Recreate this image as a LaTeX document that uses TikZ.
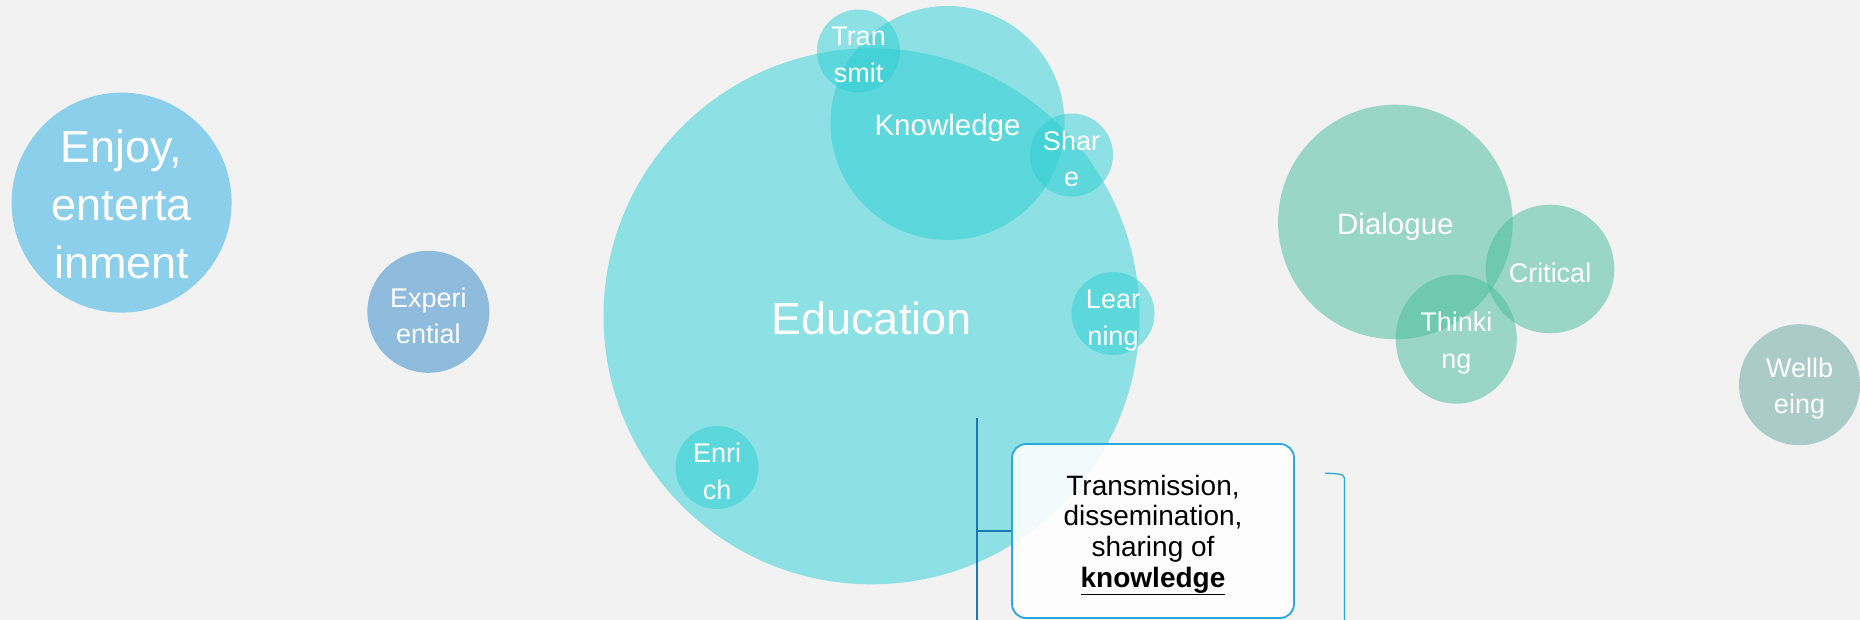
\documentclass[tikz,border=0pt]{standalone}
\usepackage{fontspec}
\setmainfont{Liberation Sans}
\usetikzlibrary{shapes.geometric}
\definecolor{bgc}{RGB}{242,242,242}
\definecolor{tealc}{RGB}{46,207,213}
\definecolor{greenc}{RGB}{69,189,152}
\definecolor{enjoyc}{RGB}{139,207,235}
\definecolor{experc}{RGB}{143,187,221}
\definecolor{wellc}{RGB}{170,203,200}
\definecolor{boxborder}{RGB}{41,168,224}
\definecolor{linec}{RGB}{30,120,175}
\tikzset{
  tcirc/.style={circle, fill=tealc, fill opacity=0.515, inner sep=0pt, minimum size=#1},
  gcirc/.style={circle, fill=greenc, fill opacity=0.51, inner sep=0pt, minimum size=#1},
  ocirc/.style={circle, fill=#1, inner sep=0pt},
  lbl/.style={text=white, align=center, inner sep=0pt, yshift=-4pt, font=\fontsize{27}{36.5}\selectfont},
  biglbl/.style={text=white, align=center, inner sep=0pt, yshift=-2pt, font=\fontsize{45}{58}\selectfont},
  midlbl/.style={text=white, align=center, inner sep=0pt, yshift=-4.5pt, font=\fontsize{29.5}{36}\selectfont},
  infobox/.style={draw=boxborder, line width=1.8pt, rounded corners=14pt, fill=white, fill opacity=0.88, inner sep=0pt, minimum width=282pt, minimum height=174pt},
  boxtext/.style={text=black, align=center, inner sep=0pt, yshift=-4pt, font=\fontsize{28}{30.7}\selectfont},
  conn/.style={draw=linec, line width=2pt},
  brk/.style={draw=boxborder, line width=1.3pt}
}
\begin{document}
\begin{tikzpicture}[x=1pt, y=-1pt]
\fill[bgc] (0,0) rectangle (1860,620);
\useasboundingbox (0,0) rectangle (1860,620);
% circles
\node[ocirc=enjoyc, minimum size=220pt] (enjoy) at (121.6,202.6) {};
\node[ocirc=experc, minimum size=122pt] (exper) at (428.4,311.8) {};
\node[tcirc=536pt] (edu) at (871.5,316.3) {};
\node[tcirc=234pt] (know) at (947.5,123) {};
\node[tcirc=83pt] (trans) at (858.5,51) {};
\node[tcirc=83pt] (share) at (1071.5,155) {};
\node[tcirc=83pt] (learn) at (1113,313.5) {};
\node[tcirc=83pt] (enrich) at (717,467.5) {};
\node[gcirc=234.6pt] (dial) at (1395.4,222) {};
\node[gcirc=128.6pt] (crit) at (1550,269) {};
\node[ellipse, fill=greenc, fill opacity=0.51, inner sep=0pt, minimum width=121pt, minimum height=129pt] (think) at (1456.3,339.2) {};
\node[ocirc=wellc, minimum size=121pt] (well) at (1799.5,384.7) {};
% labels
\node[biglbl] (enjoy-t) at (enjoy) {Enjoy,\\enterta\\inment};
\node[lbl] (exper-t) at (exper) {Experi\\ential};
\node[biglbl] (edu-t) at (edu) {Education};
\node[midlbl] (know-t) at (know) {Knowledge};
\node[lbl] (trans-t) at (trans) {Tran\\smit};
\node[lbl] (share-t) at (share) {Shar\\e};
\node[lbl, yshift=-3pt] (learn-t) at (learn) {Lear\\ning};
\node[lbl] (enrich-t) at (enrich) {Enri\\ch};
\node[midlbl] (dial-t) at (dial) {Dialogue};
\node[lbl] (crit-t) at (crit) {Critical};
\node[lbl] (think-t) at (think) {Thinki\\ng};
\node[lbl] (well-t) at (well) {Wellb\\eing};
% box and connectors
\coordinate (vtop) at (976.7,418);
\coordinate (vbot) at (976.7,625);
\draw[conn] (vtop) -- (vbot);
\node[infobox] (box) at (1153,531) {};
\node[boxtext] (box-t) at (box) {Transmission,\\dissemination,\\sharing of\\\underline{\textbf{knowledge}}};
\draw[conn] (vtop |- box.west) -- (box.west);
\coordinate (bk1) at (1325,473.3);
\coordinate (bk2) at (1344.5,625);
\draw[brk] (bk1) .. controls (1336,473.3) and (1344.5,474) .. (1344.5,478) -- (bk2);
\end{tikzpicture}
\end{document}
